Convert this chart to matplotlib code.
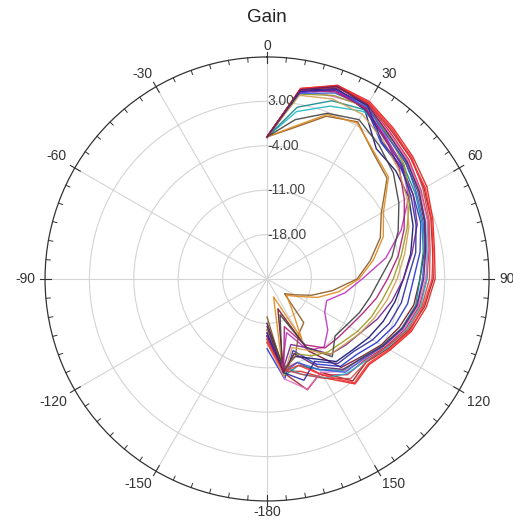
import numpy as np
import matplotlib.pyplot as plt

# --------------------------------------------------------------
# DATA (gain in dB, one value every 10 degrees from 0 to 180)
# --------------------------------------------------------------
angles_deg = [0, 10, 20, 30, 40, 50, 60, 70, 80, 90, 100, 110, 120, 130, 140, 150, 160, 170, 180]

gain_01 = [-2.6, 5.5, 7.5, 7.3, 6.0, 5.0, 4.1, 2.8, 1.8, 1.5, 0.5, -0.8, -2.6, -4.0, -3.4, -7.0, -9.5, -10.2, -16.0]
gain_02 = [-2.6, 5.3, 7.4, 7.0, 5.5, 4.6, 3.6, 2.5, 1.5, 1.2, 0.2, -1.2, -3.0, -4.6, -4.0, -8.0, -6.4, -10.0, -15.5]
gain_03 = [-2.7, 5.0, 7.2, 6.8, 5.2, 4.2, 3.0, 2.0, 0.9, 0.2, -0.6, -1.8, -3.5, -5.0, -5.3, -7.5, -11.0, -10.4, -17.0]
gain_04 = [-2.6, 5.4, 7.3, 6.5, 4.5, 3.5, 2.5, 1.4, 0.2, -0.9, -1.5, -2.8, -4.2, -5.8, -6.8, -11.9, -20.0, -10.0, -16.5]
gain_05 = [-2.6, 4.8, 6.9, 6.2, 3.0, 2.4, 1.6, 0.8, -0.5, -1.9, -2.5, -3.6, -5.0, -6.5, -7.0, -9.5, -13.0, -9.0, -14.0]
gain_06 = [-2.7, 5.2, 7.0, 5.8, 1.8, 1.5, 0.8, -0.5, -2.0, -3.5, -4.5, -5.5, -6.5, -7.5, -8.0, -10.5, -12.0, -10.5, -15.0]
gain_07 = [-2.6, 1.8, 4.0, 5.5, 4.8, 3.8, 2.6, 1.6, 0.6, 0.2, -0.4, -1.6, -3.2, -4.8, -5.5, -7.0, -9.0, -11.0, -17.0]
gain_08 = [-2.6, 2.5, 4.9, 5.8, 4.0, 3.0, 2.0, 1.0, 0.0, -0.9, -1.2, -2.4, -4.0, -5.6, -6.2, -8.5, -10.5, -9.5, -16.0]
gain_09 = [-2.7, 4.9, 6.8, 6.0, 4.2, 2.8, 0.8, -2.5, -6.0, -10.0, -12.5, -15.0, -14.5, -12.5, -11.0, -12.0, -16.0, -11.0, -18.0]
gain_10 = [-2.6, 5.1, 6.6, 5.9, 3.8, 2.8, 1.6, 0.2, -1.8, -3.5, -5.0, -6.5, -8.0, -8.8, -9.5, -12.5, -14.0, -10.5, -16.0]
gain_11 = [-2.6, 5.3, 5.6, 6.5, 5.0, 4.0, 2.9, 1.9, 0.8, 0.0, -0.8, -2.0, -3.8, -5.2, -6.0, -8.0, -6.5, -9.0, -15.0]
gain_12 = [-2.6, -0.8, 2.3, 3.6, 1.0, -0.3, -4.2, -6.0, -8.5, -10.8, -14.5, -17.5, -20.0, -21.4, -16.0, -15.0, -12.0, -10.5, -19.0]
gain_13 = [-2.6, -0.6, 2.6, 3.4, 1.2, 0.0, -3.8, -5.5, -8.0, -10.5, -13.5, -16.5, -19.5, -21.0, -19.0, -14.0, -22.0, -12.0, -17.0]
gain_14 = [-2.6, 4.6, 5.8, 6.3, 4.6, 3.2, 1.0, -1.5, -3.5, -5.1, -6.5, -7.5, -8.5, -9.5, -10.0, -11.0, -12.5, -9.5, -15.5]
gain_15 = [-2.6, 4.7, 6.2, 6.4, 4.4, 3.6, 2.2, 1.2, 0.3, -0.5, -1.0, -2.2, -3.8, -5.3, -5.8, -8.5, -11.0, -10.0, -16.0]
gain_16 = [-2.6, 5.4, 7.1, 6.9, 5.6, 4.8, 3.4, 2.2, 1.1, 0.6, -0.2, -1.4, -3.4, -4.6, -4.5, -6.9, -9.0, -10.5, -15.5]
gain_17 = [-2.6, 5.2, 6.4, 6.1, 4.0, 2.2, 0.0, -2.0, -4.0, -6.0, -7.5, -9.0, -10.0, -10.5, -10.8, -13.0, -17.0, -10.0, -16.0]
gain_18 = [-2.6, 0.5, 2.8, 4.0, 2.5, 1.0, -1.0, -3.0, -5.0, -7.2, -8.5, -9.5, -10.5, -11.0, -9.0, -12.5, -19.0, -11.5, -18.0]
gain_19 = [-2.6, 4.4, 5.2, 5.0, 3.5, 2.0, 0.5, -1.2, -3.0, -4.5, -5.8, -7.0, -8.0, -9.0, -9.5, -12.0, -13.5, -9.5, -15.0]
gain_20 = [-2.6, 5.0, 6.8, 6.6, 3.2, 2.6, 1.2, 0.0, -1.2, -2.8, -3.5, -4.5, -5.8, -7.2, -7.6, -10.0, -8.0, -10.0, -16.5]
gain_21 = [-2.6, 5.5, 7.4, 7.1, 5.8, 4.6, 3.8, 2.6, 1.6, 1.0, 0.0, -1.0, -2.8, -4.2, -3.6, -7.5, -10.5, -10.2, -15.0]
gain_22 = [-2.6, 5.3, 7.3, 6.7, 4.8, 3.8, 2.7, 1.5, 0.4, -0.3, -1.0, -2.3, -3.9, -5.5, -6.4, -9.0, -12.5, -10.0, -17.5]

theta_tick_labels = ["0", "30", "60", "90", "120", "150", "-180", "-150", "-120", "-90", "-60", "-30"]
r_tick_values = [-18, -11, -4, 3]
r_tick_labels = ["-18.00", "-11.00", "-4.00", "3.00"]

all_gains = [gain_01, gain_02, gain_03, gain_04, gain_05, gain_06, gain_07, gain_08, gain_09, gain_10, gain_11,
             gain_12, gain_13, gain_14, gain_15, gain_16, gain_17, gain_18, gain_19, gain_20, gain_21, gain_22]
line_colors = ["#e02020", "#a01818", "crimson", "#7a1020", "#2030d0", "#101070", "#20b8c8", "#108888",
               "#c030c0", "#702090", "#e070c0", "#8a5a20", "#e08a20", "#9a9a20", "#3060e0", "#c84848",
               "#b01870", "#404040", "#d0a050", "#2a2aa0", "#ff3030", "#602060"]

R_MIN, R_MAX = -25, 10
PX_PER_DB = 222 / (R_MAX - R_MIN)

# --------------------------------------------------------------
# POLAR PLOT
# --------------------------------------------------------------
plt.rcParams["font.family"] = ["Liberation Sans", "DejaVu Sans"]

fig = plt.figure(figsize=(5.13, 5.27), dpi=100)
ax = fig.add_axes([0.0878, 0.0494, 0.8655, 0.8425], projection="polar")
ax.set_theta_zero_location("N")
ax.set_theta_direction(-1)

theta = np.deg2rad(angles_deg)
for gain, col in zip(all_gains, line_colors):
    ax.plot(theta, gain, color=col, linewidth=1.0, alpha=0.9)

# Grid ve eksen ayarları
tick_angles = np.arange(0, 360, 30)
ax.set_xticks(np.deg2rad(tick_angles))
ax.set_xticklabels([])
ax.tick_params(axis="x", which="major", length=0)
ax.set_yticks(r_tick_values)
ax.set_yticklabels([])
ax.grid(True, color="#d4d4d4", linewidth=0.8)
ax.spines["polar"].set_color("#333333")
ax.spines["polar"].set_linewidth(0.9)

# Dış çember üzerindeki tik işaretleri (5 derece aralıklı)
for a in range(0, 360, 5):
    t = np.deg2rad(a)
    if a % 30 == 0:
        ax.plot([t, t], [R_MAX - 1.0, R_MAX + 0.8], color="#333333", linewidth=0.8, clip_on=False)
    else:
        ax.plot([t, t], [R_MAX - 0.7, R_MAX], color="#333333", linewidth=0.7, clip_on=False)
ax.set_ylim(R_MIN, R_MAX)

# Açı etiketleri: en yakın köşesi çemberden sabit uzaklıkta
for a, lab in zip(tick_angles, theta_tick_labels):
    s, c = np.sin(np.deg2rad(a)), np.cos(np.deg2rad(a))
    ha = "center" if abs(s) < 0.1 else ("left" if s > 0 else "right")
    va = "center" if abs(c) < 0.1 else ("bottom" if c > 0 else "top")
    gap_px = 4 + 6 * abs(s)
    ax.text(np.deg2rad(a), R_MAX + gap_px / PX_PER_DB, lab, fontsize=10, color="#333333",
            ha=ha, va=va, clip_on=False)

for val, lab in zip(r_tick_values, r_tick_labels):
    ax.text(0, val, lab, fontsize=10, color="#444444", ha="left", va="center")

fig.text(0.52, 1 - 18 / 527, "Gain", fontsize=13.5, ha="center", va="center", color="#222222")

plt.savefig("out.png", dpi=100)
